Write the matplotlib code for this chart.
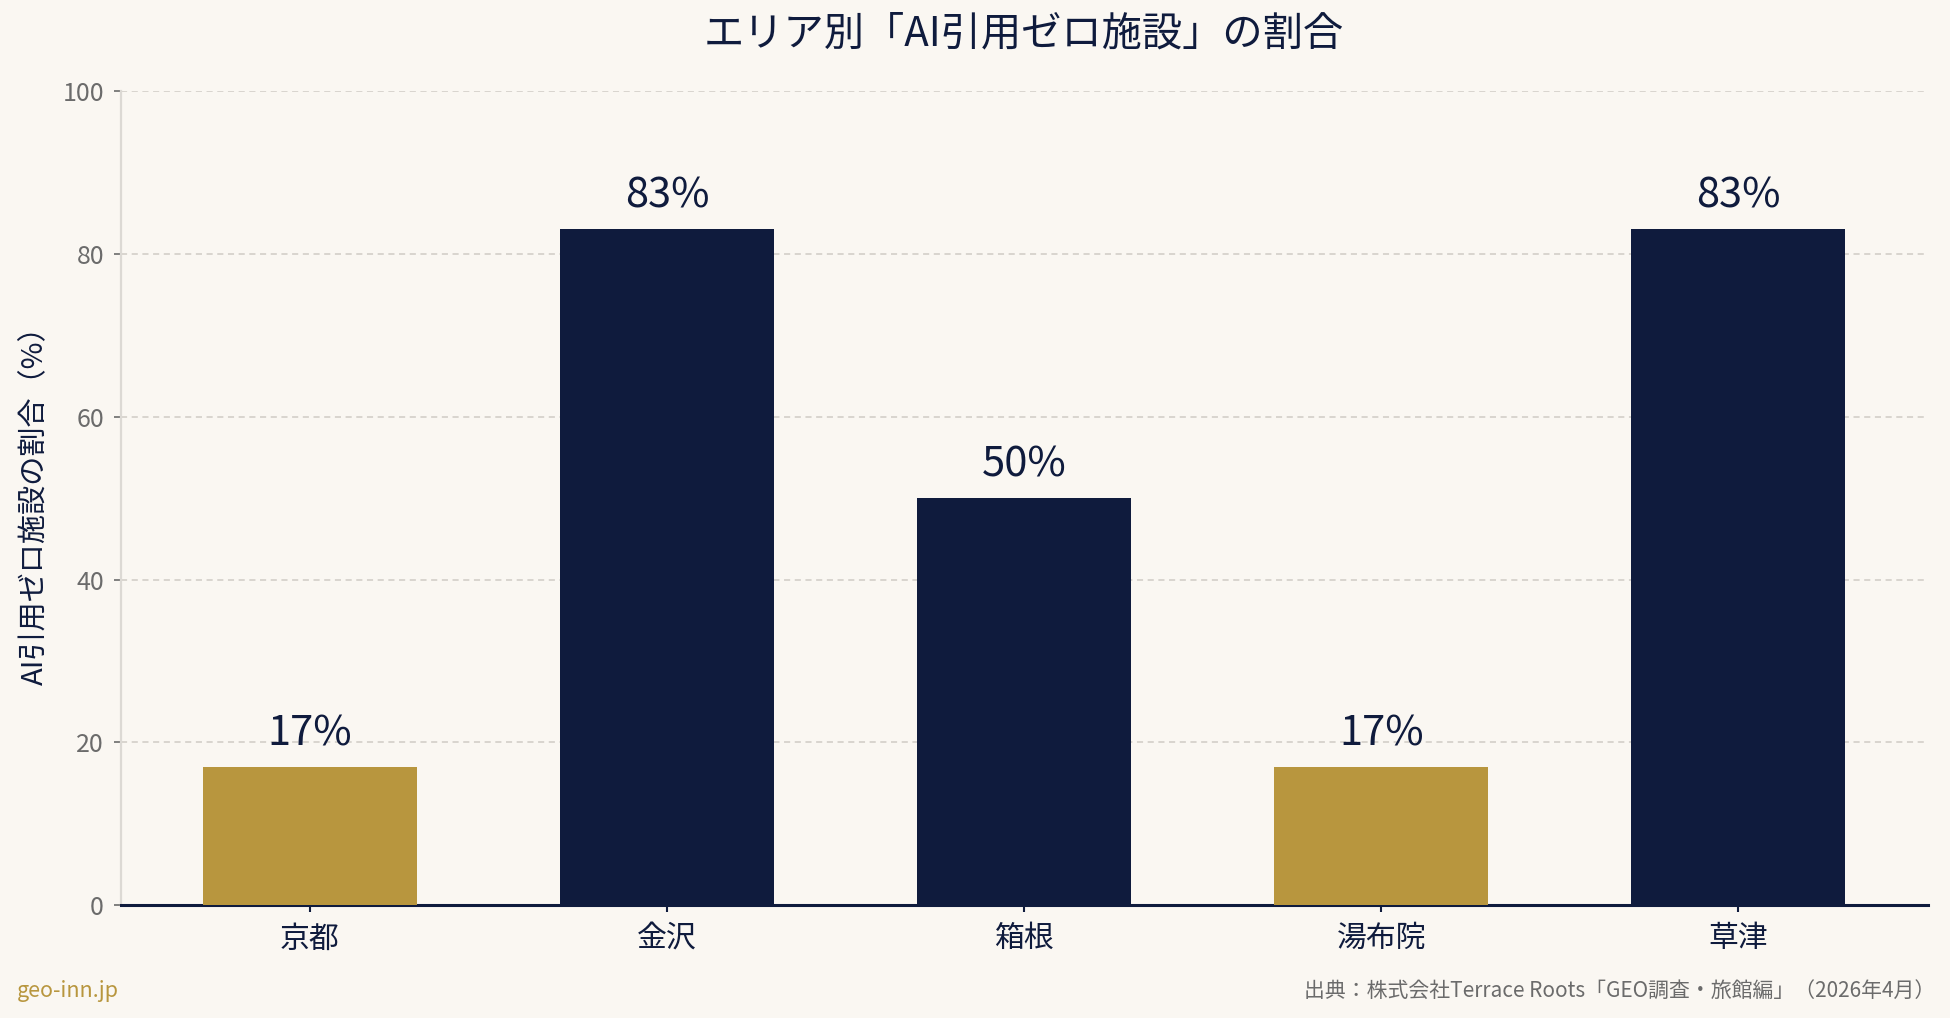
import matplotlib
matplotlib.use("Agg")
import matplotlib.pyplot as plt

plt.rcParams['font.family'] = ['Noto Sans CJK JP', 'DejaVu Sans']

areas = ["京都", "金沢", "箱根", "湯布院", "草津"]
zero_share = [17, 83, 50, 17, 83]
highlight = [True, False, False, True, False]
yticks = [0, 20, 40, 60, 80, 100]

title = "エリア別「AI引用ゼロ施設」の割合"
ylabel = "AI引用ゼロ施設の割合（%）"
source = "出典：株式会社Terrace Roots「GEO調査・旅館編」（2026年4月）"
brand = "geo-inn.jp"

NAVY = "#0F1B3D"
GOLD = "#B8963E"
BG = "#FAF7F2"
GREY = "#6B6B6B"

fig = plt.figure(figsize=(19.5, 10.18), dpi=100, facecolor=BG)
ax = fig.add_axes([0.0619, 0.1107, 0.9266, 0.8001], facecolor=BG)

colors = [GOLD if h else NAVY for h in highlight]
bars = ax.bar(areas, zero_share, width=0.6, color=colors, zorder=3)

for b, v in zip(bars, zero_share):
    ax.annotate(f"{v}%", (b.get_x() + b.get_width() / 2, v),
                xytext=(0, 24), textcoords="offset points",
                ha="center", va="center", fontsize=30, color=NAVY)

ax.set_ylim(0, 100)
ax.set_yticks(yticks)
ax.grid(axis="y", linestyle=(0, (4, 3)), color="#CFCBC5", linewidth=1.1, zorder=0)
ax.set_axisbelow(True)

for s in ["top", "right"]:
    ax.spines[s].set_visible(False)
ax.spines["left"].set_color("#DCD9D4")
ax.spines["left"].set_linewidth(1.6)
ax.spines["bottom"].set_color(NAVY)
ax.spines["bottom"].set_linewidth(2.2)

ax.tick_params(axis="y", colors=GREY, labelsize=18, length=5, width=1.2, pad=7)
ax.tick_params(axis="x", colors=NAVY, labelsize=21.5, length=5, width=1.5, pad=8)
for lab in ax.get_xticklabels():
    lab.set_color(NAVY)

ax.set_ylabel(ylabel, fontsize=21, color=NAVY)
ax.yaxis.set_label_coords(-0.039, 0.5)

fig.text(0.525, 1 - 34 / 1018, title, ha="center", va="center",
         fontsize=29, color=NAVY, fontweight="normal")
fig.text(0.0089, 0.0265, brand, ha="left", va="center", fontsize=15.5, color=GOLD)
fig.text(0.9925, 0.0265, source, ha="right", va="center", fontsize=15.0, color=GREY)

fig.savefig("out.png", dpi=100, facecolor=BG)
